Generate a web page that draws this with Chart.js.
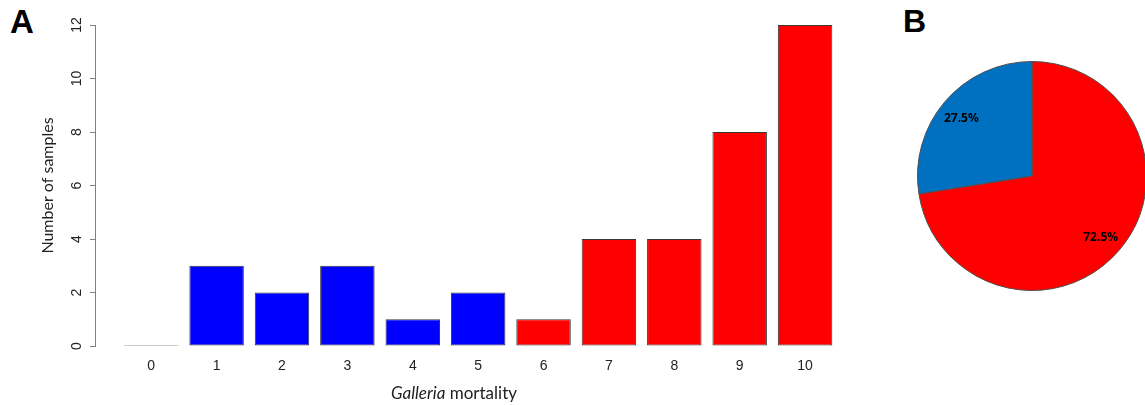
<!DOCTYPE html>
<html>
<head>
<meta charset="utf-8">
<script src="https://cdn.jsdelivr.net/npm/chart.js@4.4.1/dist/chart.umd.min.js"></script>
<style>
  html, body { margin: 0; padding: 0; background: #fff; width: 1145px; height: 405px; overflow: hidden; }
  #bar { position: absolute; left: 0; top: 0; }
  #pie { position: absolute; left: 917px; top: 61px; }
  .panel { position: absolute; font: bold 33px "Liberation Sans", Arial, sans-serif; color: #000; line-height: 1; }
</style>
</head>
<body>
<div class="panel" style="left:10px; top:5px;">A</div>
<div class="panel" style="left:903px; top:5px; font-size:32px;">B</div>
<canvas id="bar" width="880" height="405"></canvas>
<canvas id="pie" width="230" height="230"></canvas>
<script>
// Galleria mortality score per sample (0–10) and how many samples got each score
const mortality = [0, 1, 2, 3, 4, 5, 6, 7, 8, 9, 10];
const sampleCounts = [0, 3, 2, 3, 1, 2, 1, 4, 4, 8, 12];
const countTicks = [0, 2, 4, 6, 8, 10, 12];

// share of samples in the high (>5) and low (<=5) mortality groups, in percent
const groupNames = ['High mortality', 'Low mortality'];
const groupShares = [72.5, 27.5];

const LOW_COLOR = '#0000FF';
const HIGH_COLOR = '#FF0000';
const EMPTY_COLOR = '#9a9a9a';
const AXIS_COLOR = '#808080';
const TEXT_COLOR = '#222';

const barColors = mortality.map((m, i) =>
  sampleCounts[i] === 0 ? EMPTY_COLOR : (m <= 5 ? LOW_COLOR : HIGH_COLOR));

// x-axis caption with the genus name in italics
const xCaption = {
  id: 'xCaption',
  afterDraw(chart) {
    const ctx = chart.ctx;
    const cx = 454, cy = 394;
    const italic = 'italic 17px Lato, "Open Sans", sans-serif';
    const normal = '17px Lato, "Open Sans", sans-serif';
    ctx.save();
    ctx.fillStyle = TEXT_COLOR;
    ctx.textBaseline = 'middle';
    ctx.font = italic;
    const w1 = ctx.measureText('Galleria').width;
    ctx.font = normal;
    const w2 = ctx.measureText(' mortality').width;
    let x = cx - (w1 + w2) / 2;
    ctx.textAlign = 'left';
    ctx.font = italic;
    ctx.fillText('Galleria', x, cy);
    ctx.font = normal;
    ctx.fillText(' mortality', x + w1, cy);
    ctx.restore();
  }
};

new Chart(document.getElementById('bar'), {
  type: 'bar',
  data: {
    datasets: [{
      data: mortality.map((m, i) => ({ x: m, y: sampleCounts[i] })),
      backgroundColor: barColors,
      borderColor: '#383838',
      borderWidth: 1,
      borderSkipped: false,
      minBarLength: 1,
      barPercentage: 0.833,
      categoryPercentage: 1
    }]
  },
  options: {
    responsive: false,
    animation: false,
    events: [],
    layout: { padding: { left: 30, top: 25, right: 20, bottom: 0 } },
    plugins: { legend: { display: false }, tooltip: { enabled: false } },
    scales: {
      x: {
        type: 'linear',
        offset: false,
        min: -0.86,
        max: 10.84,
        grid: { display: false, drawTicks: false, offset: false },
        border: { display: false },
        afterBuildTicks: axis => { axis.ticks = mortality.map(v => ({ value: v })); },
        afterFit: s => { s.height = 59; },
        ticks: {
          padding: 12,
          color: TEXT_COLOR,
          font: { family: '"Liberation Sans", Arial, sans-serif', size: 14 },
          callback: v => String(v)
        }
      },
      y: {
        min: 0,
        max: 12,
        afterBuildTicks: axis => { axis.ticks = countTicks.map(v => ({ value: v })); },
        afterFit: s => { s.width = 65; },
        grid: { drawOnChartArea: false, drawTicks: true, tickLength: 5, color: AXIS_COLOR },
        border: { display: true, color: AXIS_COLOR, width: 1 },
        ticks: {
          minRotation: 90,
          maxRotation: 90,
          crossAlign: 'center',
          padding: 5,
          color: TEXT_COLOR,
          font: { family: '"Liberation Sans", Arial, sans-serif', size: 14 }
        },
        title: {
          display: true,
          text: 'Number of samples',
          color: TEXT_COLOR,
          padding: { top: 8, bottom: 0 },
          font: { family: 'Lato, "Open Sans", sans-serif', size: 16 }
        }
      }
    }
  },
  plugins: [xCaption]
});

// percentage labels placed along each slice's mid-angle
const sliceLabels = {
  id: 'sliceLabels',
  afterDatasetsDraw(chart) {
    const ctx = chart.ctx;
    const meta = chart.getDatasetMeta(0);
    ctx.save();
    ctx.fillStyle = '#000';
    ctx.font = 'bold 12px "Open Sans", Lato, sans-serif';
    ctx.textAlign = 'center';
    ctx.textBaseline = 'middle';
    meta.data.forEach((arc, i) => {
      const { x, y, startAngle, endAngle, outerRadius } = arc.getProps(['x', 'y', 'startAngle', 'endAngle', 'outerRadius'], true);
      const mid = (startAngle + endAngle) / 2;
      const r = outerRadius * 0.8;
      ctx.fillText(groupShares[i].toFixed(1) + '%', x + Math.cos(mid) * r - 1, y + Math.sin(mid) * r + 2.5);
    });
    ctx.restore();
  }
};

new Chart(document.getElementById('pie'), {
  type: 'pie',
  data: {
    labels: groupNames,
    datasets: [{
      data: groupShares,
      backgroundColor: [HIGH_COLOR, '#0070C0'],
      borderColor: '#505050',
      borderWidth: 1,
      hoverOffset: 0
    }]
  },
  options: {
    responsive: false,
    animation: false,
    events: [],
    layout: { padding: 0 },
    plugins: { legend: { display: false }, tooltip: { enabled: false } }
  },
  plugins: [sliceLabels]
});
</script>
</body>
</html>
